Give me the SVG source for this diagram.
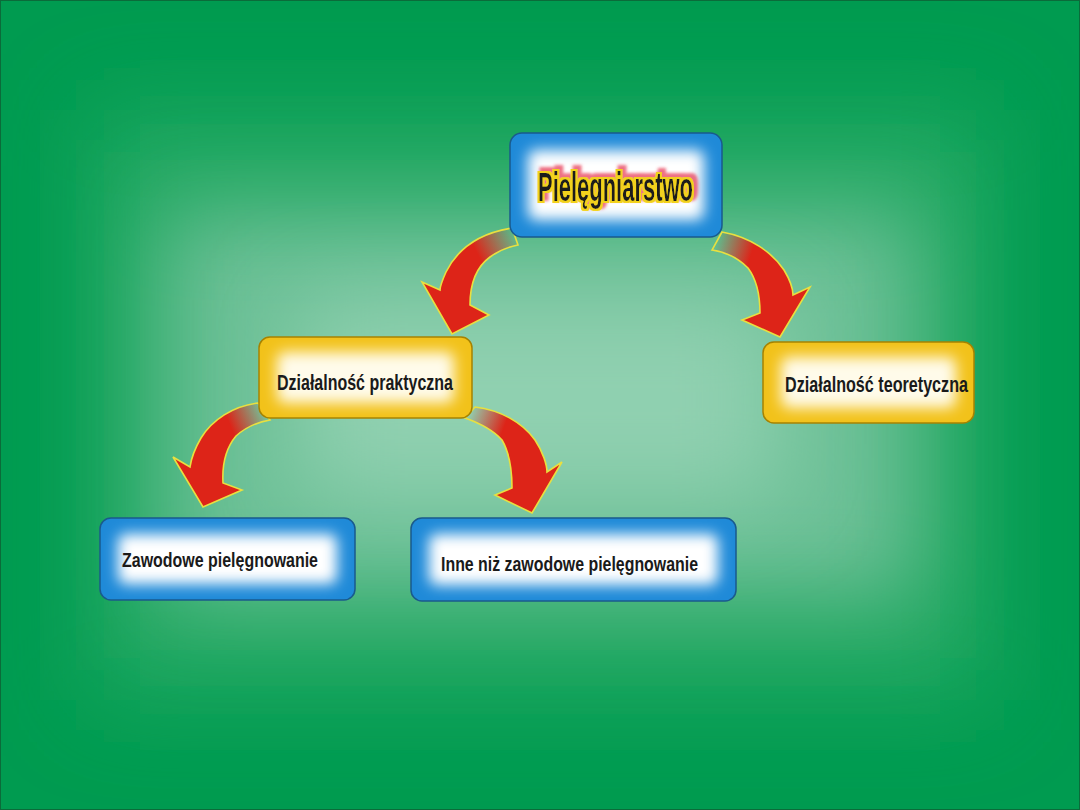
<svg xmlns="http://www.w3.org/2000/svg" width="1080" height="810" viewBox="0 0 1080 810">
<defs>
<filter id="bgblur" x="-50%" y="-50%" width="200%" height="200%"><feGaussianBlur stdDeviation="45"/></filter>
<filter id="inblur" x="-30%" y="-30%" width="160%" height="160%"><feGaussianBlur stdDeviation="7"/></filter>
<filter id="glow" x="-20%" y="-50%" width="140%" height="200%">
<feMorphology in="SourceAlpha" operator="dilate" radius="2.2" result="d"/>
<feFlood flood-color="#f2d21a" result="y"/>
<feComposite in="y" in2="d" operator="in" result="yb"/>
<feMorphology in="SourceAlpha" operator="dilate" radius="3" result="d2"/>
<feOffset in="d2" dx="3" dy="-3" result="o"/>
<feGaussianBlur in="o" stdDeviation="1.5" result="ob"/>
<feFlood flood-color="#e8405a" flood-opacity="0.75" result="r"/>
<feComposite in="r" in2="ob" operator="in" result="rb"/>
<feMerge><feMergeNode in="rb"/><feMergeNode in="yb"/><feMergeNode in="SourceGraphic"/></feMerge>
</filter>
<linearGradient id="g1" gradientUnits="userSpaceOnUse" x1="515" y1="236" x2="478" y2="255"><stop offset="0" stop-color="#dd2418" stop-opacity="0"/><stop offset="1" stop-color="#dd2418"/></linearGradient>
<linearGradient id="g2" gradientUnits="userSpaceOnUse" x1="717" y1="241" x2="752" y2="252"><stop offset="0" stop-color="#dd2418" stop-opacity="0"/><stop offset="1" stop-color="#dd2418"/></linearGradient>
<linearGradient id="g3" gradientUnits="userSpaceOnUse" x1="264" y1="411" x2="230" y2="425"><stop offset="0" stop-color="#dd2418" stop-opacity="0"/><stop offset="1" stop-color="#dd2418"/></linearGradient>
<linearGradient id="g4" gradientUnits="userSpaceOnUse" x1="470" y1="412" x2="505" y2="425"><stop offset="0" stop-color="#dd2418" stop-opacity="0"/><stop offset="1" stop-color="#dd2418"/></linearGradient>
</defs>
<style>
.blue{fill:#1f8ad8;stroke:#1a5a8c;stroke-width:1.5}
.yel{fill:#f2c21a;stroke:#a68200;stroke-width:1.5}
.inner{fill:#ffffff;filter:url(#inblur)}
.innery{fill:#fffbea;filter:url(#inblur)}
.lbl{font-family:"Liberation Sans Narrow","Liberation Sans",Arial,sans-serif;font-weight:bold;fill:#1a1a1a;text-anchor:start}
.arrow{stroke:#e8e040;stroke-width:1.6;stroke-linejoin:miter}
</style>
<rect x="0" y="0" width="1080" height="810" fill="#009b50"/>
<rect x="90" y="110" width="900" height="590" fill="#22a862" filter="url(#bgblur)"/>
<rect x="160" y="210" width="760" height="390" fill="#6cc096" filter="url(#bgblur)"/>
<rect x="300" y="300" width="480" height="200" fill="#90d0b0" filter="url(#bgblur)"/>
<rect x="0.5" y="0.5" width="1079" height="809" fill="none" stroke="#0b6b3a" stroke-width="1"/>

<g id="connectors">
<path class="arrow" fill="url(#g1)" d="M512,228 C480,233 458,248 446,272 C442,281 440,287 440,290 L422,282 L452,334 L489,315 L470,305 C470,285 475,268 490,257 C498,251 508,247 518,245 Z"/>
<path class="arrow" fill="url(#g2)" d="M722,232 C750,237 772,252 784,270 C790,280 793,290 793,295 L810,287 L780,337 L742,320 L760,313 C760,295 757,280 748,268 C738,258 726,252 712,250 Z"/>
<path class="arrow" fill="url(#g3)" d="M258,403 C233,406 212,420 201,438 C194,450 191,460 190,467 L173,457 L203,507 L242,490 L223,483 C222,465 226,448 236,436 C246,427 258,422 270,420 Z"/>
<path class="arrow" fill="url(#g4)" d="M475,407 C500,410 522,422 535,440 C543,452 547,465 547,472 L562,462 L532,513 L495,495 L512,488 C512,468 509,452 502,440 C494,431 482,424 465,418 Z"/>
</g>

<g id="node-pielegniarstwo">
<rect class="blue" x="510" y="133" width="212" height="104" rx="12"/>
<rect class="inner" x="528" y="150" width="176" height="70" rx="8"/>
<text class="lbl" x="538" y="201" font-size="40" textLength="155" lengthAdjust="spacingAndGlyphs" filter="url(#glow)">Pielęgniarstwo</text>
</g>

<g id="node-praktyczna">
<rect class="yel" x="259" y="337" width="213" height="81" rx="11"/>
<rect class="innery" x="277" y="352" width="177" height="51" rx="8"/>
<text class="lbl" x="277" y="390" font-size="22" textLength="176" lengthAdjust="spacingAndGlyphs">Działalność praktyczna</text>
</g>

<g id="node-teoretyczna">
<rect class="yel" x="763" y="342" width="211" height="81" rx="11"/>
<rect class="innery" x="781" y="357" width="175" height="51" rx="8"/>
<text class="lbl" x="785" y="392" font-size="22" textLength="183" lengthAdjust="spacingAndGlyphs">Działalność teoretyczna</text>
</g>

<g id="node-zawodowe">
<rect class="blue" x="100" y="518" width="255" height="82" rx="11"/>
<rect class="inner" x="118" y="534" width="219" height="50" rx="8"/>
<text class="lbl" x="122" y="567" font-size="21" textLength="196" lengthAdjust="spacingAndGlyphs">Zawodowe pielęgnowanie</text>
</g>

<g id="node-inne">
<rect class="blue" x="411" y="518" width="325" height="83" rx="11"/>
<rect class="inner" x="429" y="534" width="289" height="51" rx="8"/>
<text class="lbl" x="441" y="571" font-size="21" textLength="257" lengthAdjust="spacingAndGlyphs">Inne niż zawodowe pielęgnowanie</text>
</g>
</svg>
